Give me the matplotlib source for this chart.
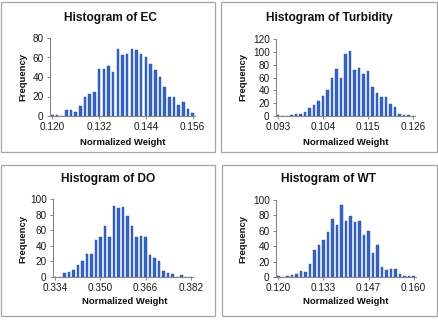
import matplotlib
matplotlib.use("Agg")
import matplotlib.pyplot as plt
from matplotlib.patches import Rectangle

plt.rcParams['font.family'] = ['Liberation Sans', 'DejaVu Sans']

# ---- data (bin counts; 31 bins per histogram) ----
ec_counts = [1, 1, 0, 6, 6, 4, 10, 20, 23, 25, 48, 48, 51, 45, 69, 63, 64, 69, 68, 64,
             60, 53, 47, 40, 30, 20, 19, 11, 14, 7, 3]
ec_ticks = ["0.120", "0.132", "0.144", "0.156"]

turb_counts = [1, 0, 0, 2, 3, 3, 7, 12, 17, 23, 31, 40, 60, 74, 60, 97, 101, 72, 75, 66,
               70, 45, 36, 29, 30, 19, 14, 3, 1, 2, 0]
turb_ticks = ["0.093", "0.104", "0.115", "0.126"]

do_counts = [0, 0, 5, 7, 9, 15, 20, 29, 29, 48, 51, 66, 51, 91, 88, 90, 78, 66, 51, 52,
             51, 28, 25, 20, 8, 5, 4, 0, 2, 0, 0]
do_ticks = ["0.334", "0.350", "0.366", "0.382"]

wt_counts = [1, 0, 1, 3, 4, 8, 7, 17, 35, 41, 48, 59, 75, 68, 93, 73, 79, 72, 73, 55,
             60, 31, 41, 13, 9, 10, 10, 4, 1, 1, 1]
wt_ticks = ["0.120", "0.133", "0.147", "0.160"]

titles = ["Histogram of EC", "Histogram of Turbidity", "Histogram of DO", "Histogram of WT"]
ymax = [80, 120, 100, 100]
ystep = [20, 20, 20, 20]

W, H = 439, 325
fig = plt.figure(figsize=(W / 100, H / 100), dpi=100)
fig.patch.set_facecolor("white")

def fx(x):
    return x / W

def fy(y):
    return 1 - y / H

# pixel layout (from top-left)
panels = [
    dict(box=(1.5, 2.5, 215, 152), ax=(50, 195, 38, 116), title=(110, 18), xl=(123, 142), yl=(23, 77)),
    dict(box=(221, 2.5, 437, 152), ax=(276, 415, 39, 116), title=(329, 18), xl=(346, 142), yl=(243, 77)),
    dict(box=(1.5, 164.5, 215, 316), ax=(53, 193, 199, 277), title=(108, 179), xl=(125, 302), yl=(23, 239)),
    dict(box=(222, 164.5, 437, 316), ax=(276, 416, 200, 277), title=(329, 179), xl=(346, 302), yl=(243, 239)),
]
series = [ec_counts, turb_counts, do_counts, wt_counts]
ticklabels = [ec_ticks, turb_ticks, do_ticks, wt_ticks]

axis_col = "#868686"
bar_col = "#3464C8"

for p, counts, tl, title, ym, ys in zip(panels, series, ticklabels, titles, ymax, ystep):
    x0, y0, x1, y1 = p["box"]
    fig.patches.append(Rectangle((fx(x0), fy(y1)), fx(x1) - fx(x0), fy(y0) - fy(y1),
                                 transform=fig.transFigure, fill=False,
                                 edgecolor="#A6A6A6", linewidth=0.9))
    l, r, t, b = p["ax"]
    ax = fig.add_axes([fx(l), fy(b), fx(r) - fx(l), fy(t) - fy(b)])
    idx = list(range(len(counts)))
    ax.bar(idx, counts, width=0.55, color=bar_col, edgecolor="#2A4F9E", linewidth=0.3)
    ax.set_xlim(-0.5, len(counts) - 0.5)
    ax.set_ylim(0, ym)
    ax.set_yticks(list(range(0, ym + 1, ys)))
    ax.set_xticks([0, 10, 20, 30])
    ax.set_xticklabels(tl)
    for s in ["top", "right"]:
        ax.spines[s].set_visible(False)
    for s in ["left", "bottom"]:
        ax.spines[s].set_color(axis_col)
        ax.spines[s].set_linewidth(0.8)
    ax.tick_params(axis="both", colors=axis_col, labelcolor="#1a1a1a", labelsize=7.2,
                   length=2.5, width=0.7, pad=2)
    fig.text(fx(p["title"][0]), fy(p["title"][1]), title, ha="center", va="center",
             fontsize=8.6, fontweight="bold", color="#111111")
    fig.text(fx(p["xl"][0]), fy(p["xl"][1]), "Normalized Weight", ha="center", va="center",
             fontsize=6.8, fontweight="bold", color="#111111")
    fig.text(fx(p["yl"][0]), fy(p["yl"][1]), "Frequency", ha="center", va="center",
             rotation=90, fontsize=6.8, fontweight="bold", color="#111111")

fig.savefig("out.png", dpi=100, facecolor="white")
